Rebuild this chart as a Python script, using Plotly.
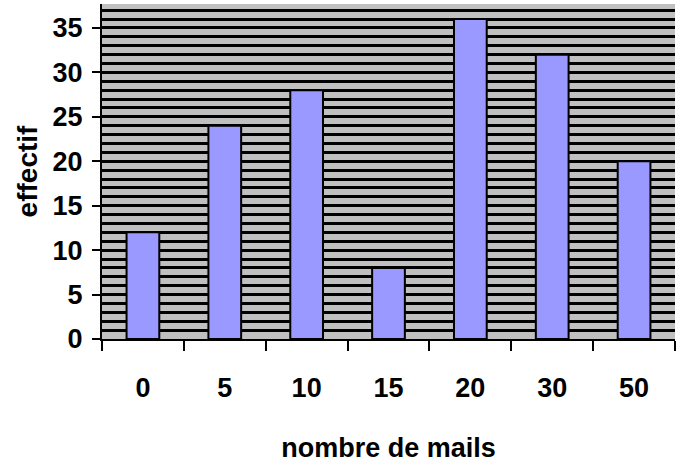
import plotly.graph_objects as go

categories = ["0", "5", "10", "15", "20", "30", "50"]
values = [12, 24, 28, 8, 36, 32, 20]

fig = go.Figure()
fig.add_trace(go.Bar(
    x=categories, y=values,
    marker=dict(color="#9999FF", line=dict(color="black", width=2)),
    width=0.4,
))

font_family = "Liberation Sans, Arial, sans-serif"

fig.update_layout(
    width=683, height=465,
    margin=dict(l=102, r=8, t=4, b=126),
    paper_bgcolor="white",
    plot_bgcolor="#C0C0C0",
    showlegend=False,
    font=dict(family=font_family, color="black"),
)

fig.update_xaxes(
    type="category",
    tickson="boundaries",
    ticks="outside", ticklen=10, tickwidth=2, tickcolor="black",
    showline=True, linecolor="black", linewidth=2,
    showgrid=False,
    tickfont=dict(size=27, weight="bold", family=font_family),
    ticklabelstandoff=24,
    title=dict(text="nombre de mails", font=dict(size=27, weight="bold", family=font_family), standoff=36),
    range=[-0.5, 6.5],
)

fig.update_yaxes(
    range=[0, 37.7],
    dtick=5, tick0=0,
    ticks="outside", ticklen=8, tickwidth=2, tickcolor="black",
    showline=True, linecolor="black", linewidth=2,
    showgrid=True, gridcolor="black", gridwidth=2.5,
    minor=dict(dtick=1, showgrid=True, gridcolor="black", gridwidth=2.5),
    tickfont=dict(size=27, weight="bold", family=font_family),
    ticklabelstandoff=4,
    title=dict(text="effectif", font=dict(size=28, weight="bold", family=font_family), standoff=7),
    zeroline=False,
)

fig.write_html("out.html", config={"displayModeBar": False},
               post_script="document.body.style.margin='0';")
